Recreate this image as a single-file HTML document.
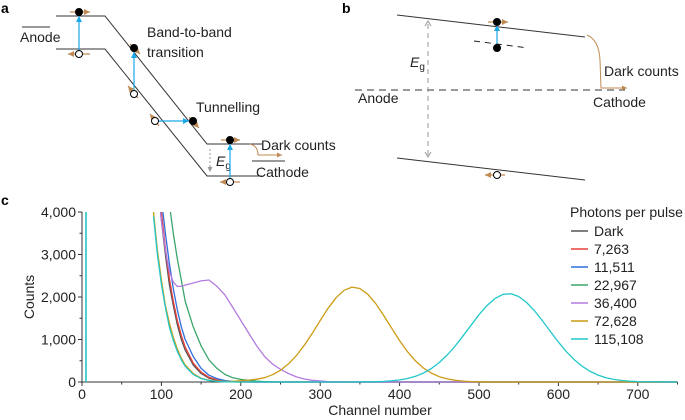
<!DOCTYPE html>
<html><head><meta charset="utf-8">
<style>
html,body{margin:0;padding:0;background:#fff;}
svg{display:block;font-family:"Liberation Sans",Arial,sans-serif;}
</style></head>
<body>
<svg id="fig" width="685" height="420" viewBox="0 0 685 420" xmlns="http://www.w3.org/2000/svg">
<defs>
<marker id="ab" markerWidth="6" markerHeight="6" refX="5" refY="3" orient="auto"><path d="M0,0.5 L5,3 L0,5.5 Z" fill="#1aa7e8"/></marker>
<marker id="ao" markerWidth="6" markerHeight="6" refX="5" refY="3" orient="auto"><path d="M0,0.5 L5,3 L0,5.5 Z" fill="#c08a55"/></marker>
<marker id="ag" markerWidth="6" markerHeight="6" refX="5" refY="3" orient="auto"><path d="M0,0.5 L5,3 L0,5.5 Z" fill="#999"/></marker>
<clipPath id="plotclip"><rect x="82" y="212" width="596" height="171"/></clipPath>
</defs>

<!-- Panel a -->
<g>
<text x="1" y="13" font-size="14" font-weight="bold">a</text>
<polyline points="56,16 105,16 207,144 262,144" fill="none" stroke="#333" stroke-width="1"/>
<polyline points="56,49 105,49 207,176 262,176" fill="none" stroke="#333" stroke-width="1"/>
<line x1="22" y1="27" x2="50" y2="27" stroke="#333"/>
<text x="20" y="42" font-size="14" fill="#222">Anode</text>
<line x1="252" y1="161" x2="285" y2="161" stroke="#333"/>
<text x="256" y="177" font-size="14" fill="#222">Cathode</text>
<text x="147" y="37" font-size="14" fill="#222">Band-to-band</text>
<text x="147" y="57" font-size="14" fill="#222">transition</text>
<text x="196" y="112" font-size="14" fill="#222">Tunnelling</text>
<text x="261" y="150" font-size="14" fill="#222">Dark counts</text>
<text x="216" y="166" font-size="14" font-style="italic" fill="#222">E<tspan font-size="10" font-style="normal" dy="3">g</tspan></text>
<line x1="210" y1="149" x2="210" y2="172" stroke="#999" stroke-dasharray="2,2" marker-end="url(#ag)"/>
<path d="M250,144 Q258,146 258,155 L282,155" fill="none" stroke="#c08a55" marker-end="url(#ao)"/>
<g stroke="#1aa7e8" stroke-width="1.2" fill="none">
<line x1="79" y1="51" x2="79" y2="16" marker-end="url(#ab)"/>
<line x1="134" y1="91" x2="134" y2="52" marker-end="url(#ab)"/>
<line x1="158" y1="121" x2="189" y2="121" marker-end="url(#ab)"/>
<line x1="230" y1="179" x2="230" y2="144" marker-end="url(#ab)"/>
</g>
<g stroke="#c08a55" stroke-width="1.2">
<line x1="70" y1="12" x2="90" y2="12" marker-end="url(#ao)"/>
<line x1="90" y1="54" x2="68" y2="54" marker-end="url(#ao)"/>
<line x1="130" y1="44" x2="140" y2="54" marker-end="url(#ao)"/>
<line x1="138" y1="98" x2="128" y2="86" marker-end="url(#ao)"/>
<line x1="159" y1="126" x2="150" y2="114" marker-end="url(#ao)"/>
<line x1="189" y1="117" x2="199" y2="128" marker-end="url(#ao)"/>
<line x1="221" y1="140" x2="240" y2="140" marker-end="url(#ao)"/>
<line x1="240" y1="182" x2="220" y2="182" marker-end="url(#ao)"/>
</g>
<g stroke="#000" stroke-width="1">
<circle cx="79" cy="12" r="3.5" fill="#000"/>
<circle cx="79" cy="54" r="3.5" fill="#fff"/>
<circle cx="134" cy="48" r="3.5" fill="#000"/>
<circle cx="134" cy="94" r="3.5" fill="#fff"/>
<circle cx="155" cy="121" r="3.5" fill="#fff"/>
<circle cx="193" cy="121" r="3.5" fill="#000"/>
<circle cx="230" cy="140" r="3.5" fill="#000"/>
<circle cx="230" cy="182" r="3.5" fill="#fff"/>
</g>
</g>

<!-- Panel b -->
<g>
<text x="342" y="13" font-size="14" font-weight="bold">b</text>
<line x1="397" y1="15" x2="585" y2="37" stroke="#333"/>
<line x1="397" y1="158" x2="585" y2="180" stroke="#333"/>
<line x1="355" y1="90" x2="625" y2="90" stroke="#333" stroke-dasharray="7,5"/>
<text x="358" y="103" font-size="14" fill="#222">Anode</text>
<text x="593" y="107" font-size="14" fill="#222">Cathode</text>
<text x="604" y="76" font-size="14" fill="#222">Dark counts</text>
<path d="M587,35 Q599,40 600,60 L601,88 L627,88" fill="none" stroke="#c08a55" marker-end="url(#ao)"/>
<line x1="428" y1="24" x2="428" y2="155" stroke="#999" stroke-dasharray="5,4"/>
<path d="M425,26 L428,21 L431,26 M425,152 L428,157 L431,152" fill="none" stroke="#999"/>
<text x="410" y="67" font-size="14" font-style="italic" fill="#222">E<tspan font-size="10" font-style="normal" dy="3">g</tspan></text>
<line x1="474" y1="41" x2="528" y2="48" stroke="#222" stroke-dasharray="6,5"/>
<line x1="497" y1="44" x2="497" y2="25" stroke="#1aa7e8" stroke-width="1.2" marker-end="url(#ab)"/>
<line x1="488" y1="22" x2="508" y2="22" stroke="#c08a55" stroke-width="1.2" marker-end="url(#ao)"/>
<line x1="505" y1="175" x2="485" y2="175" stroke="#c08a55" stroke-width="1.2" marker-end="url(#ao)"/>
<circle cx="497" cy="22" r="3.5" fill="#000" stroke="#000"/>
<circle cx="497" cy="48" r="3.5" fill="#000" stroke="#000"/>
<circle cx="497" cy="175" r="3.5" fill="#fff" stroke="#000"/>
</g>

<!-- Panel c -->
<g id="panelc">
<text x="1" y="205" font-size="14" font-weight="bold">c</text>
<text x="0" y="0" transform="translate(34,297) rotate(-90)" text-anchor="middle" font-size="14" fill="#222">Counts</text>
<text x="380" y="415" text-anchor="middle" font-size="14" fill="#222">Channel number</text>
<text x="570" y="217" font-size="14" fill="#222">Photons per pulse</text>
<g id="axes"></g>
<g id="series" clip-path="url(#plotclip)"></g>
<g id="legend"></g>
</g>
</svg>
<script>
const channels = [85,90,95,100,105,110,115,120,125,
130,140,150,160,170,180,190,200,210,220,230,240,250,260,270,280,290,300,310,320,330,340,350,360,370,380,390,400,410,420,430,440,450,460,470,480,490,500,510,520,530,540,550,560,570,580,590,600,610,620,630,640,650,660,670,680,690,700,
750];
const dark   = [null,6000,4800,3800,3000,2300,1800,1350,1000,
750,400,200,90,40,15,5,
0,0,0,0,0,0,0,0,0,0, 0,0,0,0,0,0,0,0,0,0, 0,0,0,0,0,0,0,0,0,0, 0,0,0,0,0,0,0,0,0,0, 0,0,0,0,0,0,0,0,0,0, 0,
0];
const s7263  = [null,6200,5000,4000,3150,2450,1900,1450,1100,
820,450,230,110,50,20,8,3,
0,0,0,0,0,0,0,0,0,0, 0,0,0,0,0,0,0,0,0,0, 0,0,0,0,0,0,0,0,0,0, 0,0,0,0,0,0,0,0,0,0, 0,0,0,0,0,0,0,0,0,0,
0];
const s11511 = [null,6500,5300,4300,3500,2800,2200,1700,1300,
1000,600,320,160,80,35,15,6,
0,0,0,0,0,0,0,0,0,0, 0,0,0,0,0,0,0,0,0,0, 0,0,0,0,0,0,0,0,0,0, 0,0,0,0,0,0,0,0,0,0, 0,0,0,0,0,0,0,0,0,0,
0];
const s22967 = [null,9000,7500,6000,5000,4200,3500,2900,2400,
1900,1300,850,520,320,180,100,60,40,20,10,5,
0,0,0,0,0,0,0,0,0,0, 0,0,0,0,0,0,0,0,0,0, 0,0,0,0,0,0,0,0,0,0, 0,0,0,0,0,0,0,0,0,0, 0,0,0,0,0,0,
0];
const s36400 = [null,6000,4700,3800,3100,2600,2350,2250,2250,
2280,2330,2380,2400,2250,2050,1750,
1450,1150,850,600,420,300,200,120,70,40,25,10,5,
0,0,0,0,0,0,0,0,0,0, 0,0,0,0,0,0,0,0,0,0, 0,0,0,0,0,0,0,0,0,0, 0,0,0,0,0,0,0,0,
0];
const s72628 = [null,4000,3100,2400,1800,1400,1050,780,560,
400,200,90,40,20,15,15,
30,45,67,101,171,276,425,621,865,1147,1446,1736,1983,2157,2234,2200,2063,1842,1564,1265,974,713,497,330,209,125,72,39,20,10,5,
0,0,0,0,0,0,0,0,0,0, 0,0,0,0,0,0,0,0,0,0,
0];
const s115108= [null,3900,3000,2300,1750,1300,980,720,520,
370,180,80,35,15,5,0,
0,0,0,0,0,0,0,0,0,0, 0,0,0,0,0,
2,4,8,15,28,49,83,135,210,317,458,635,847,1086,1337,1583,1798,1963,2060,2076,2011,1871,1673,1437,1186,940,716,524,369,249,162,101,60,35,19,10,
0];
const spikeChannel = 5;
const seriesNames = ["Dark","7,263","11,511","22,967","36,400","72,628","115,108"];
const seriesData = [dark,s7263,s11511,s22967,s36400,s72628,s115108];
const seriesColors = ["#555555","#e8413c","#2f6fdc","#3aa56a","#b47be0","#cc9c14","#22c7c9"];
const xTicks = [0,100,200,300,400,500,600,700];
const yTicks = [0,1000,2000,3000,4000];
const yTickLabels = ["0","1,000","2,000","3,000","4,000"];

const X0=82, X1=677.5, XMAX=750, Y0=382, Y1=212, YMAX=4000;
function xs(v){return X0+(v/XMAX)*(X1-X0);}
function ys(v){return Y0-(v/YMAX)*(Y0-Y1);}
const NS="http://www.w3.org/2000/svg";
function mk(tag,attrs,parent){const e=document.createElementNS(NS,tag);for(const k in attrs)e.setAttribute(k,attrs[k]);parent.appendChild(e);return e;}
const axes=document.getElementById('axes');
let l=mk('line',{x1:X0,y1:Y0,x2:X1,y2:Y0,stroke:'#333','stroke-width':1},axes);


l=mk('line',{x1:X0,y1:Y0,x2:X0,y2:Y1,stroke:'#333','stroke-width':1},axes);


for(let v=0;v<=XMAX;v+=50){
  const major=v%100===0;
  const t=mk('line',{x1:xs(v),y1:Y0,x2:xs(v),y2:Y0+(major?4:2.5),stroke:'#333'},axes);
  
  
}
xTicks.forEach(v=>{
  const t=mk('text',{x:xs(v),y:Y0+17,'text-anchor':'middle','font-size':14,fill:'#222'},axes);
  t.textContent=v;
  
  
});
for(let v=0;v<=YMAX;v+=500){
  const major=v%1000===0;
  const t=mk('line',{x1:X0,y1:ys(v),x2:X0-(major?4:2.5),y2:ys(v),stroke:'#333'},axes);
  
  
}
yTicks.forEach((v,i)=>{
  const t=mk('text',{x:X0-6,y:ys(v)+5,'text-anchor':'end','font-size':14,fill:'#222'},axes);
  t.textContent=yTickLabels[i];
  
  
});
const sg=document.getElementById('series');
seriesData.forEach((arr,si)=>{
  let d='';let started=false;
  arr.forEach((v,i)=>{
    if(v===null) return;
    d+=(started?'L':'M')+xs(channels[i]).toFixed(1)+','+ys(v).toFixed(1);
    started=true;
  });
  const p=mk('path',{d:d,fill:'none',stroke:seriesColors[si],'stroke-width':1.3,'stroke-linejoin':'round'},sg);
  
  
});
const sp=mk('line',{x1:xs(spikeChannel),y1:Y0,x2:xs(spikeChannel),y2:Y1,stroke:seriesColors[6],'stroke-width':1.6},sg);


const lg=document.getElementById('legend');
seriesNames.forEach((n,i)=>{
  const y=231+i*18;
  const g=mk('g',{},lg);
  
  
  mk('line',{x1:571,y1:y,x2:588,y2:y,stroke:seriesColors[i],'stroke-width':1.5},g);
  const t=mk('text',{x:594,y:y+5,'font-size':14,fill:'#222'},g);
  t.textContent=n;
});
</script>
</body></html>
